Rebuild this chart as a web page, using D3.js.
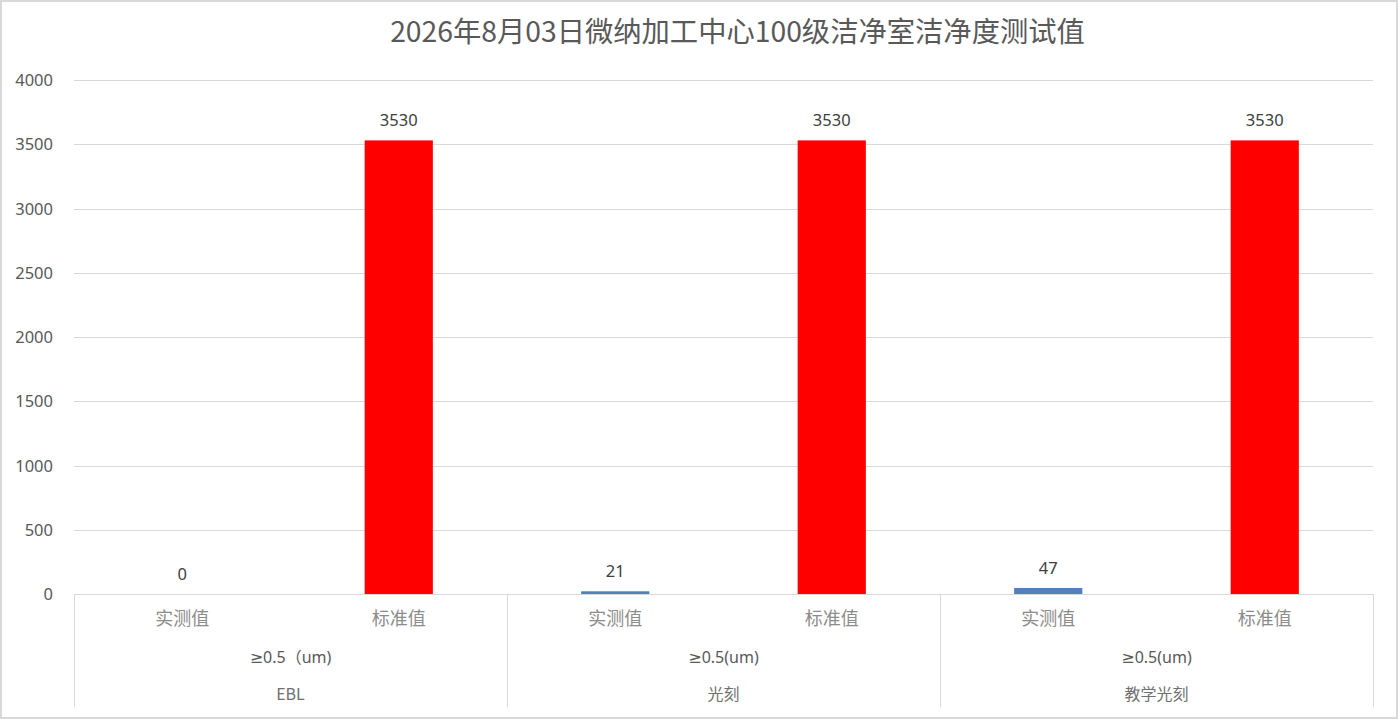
<!DOCTYPE html>
<html>
<head>
<meta charset="utf-8">
<script src="https://cdn.jsdelivr.net/npm/d3@7"></script>
<style>
  body { margin: 0; background: #fff; }
  svg { display: block; font-family: "Noto Sans CJK SC", "Noto Sans", sans-serif; }
  .latin { font-family: "Noto Sans", "DejaVu Sans", "Noto Sans CJK SC", sans-serif; }
</style>
</head>
<body>
<div id="chart"></div>
<script>
// chart data
var title = "2026年8月03日微纳加工中心100级洁净室洁净度测试值";
var groups = ["EBL", "光刻", "教学光刻"];
var sizeLabels = ["≥0.5（um)", "≥0.5(um)", "≥0.5(um)"];
var kinds = ["实测值", "标准值"];
var measured = [0, 21, 47];
var standard = [3530, 3530, 3530];
var yTicks = [0, 500, 1000, 1500, 2000, 2500, 3000, 3500, 4000];

var width = 1398, height = 719;
var plotLeft = 74, plotRight = 1373, plotTop = 80, base = 594;

var svg = d3.select("#chart").append("svg")
  .attr("width", width)
  .attr("height", height);

// outer frame
svg.append("rect")
  .attr("x", 1).attr("y", 1)
  .attr("width", width - 2).attr("height", height - 2)
  .attr("fill", "#fff")
  .attr("stroke", "#d9d9d9")
  .attr("stroke-width", 2);

svg.append("text")
  .attr("x", (plotLeft + plotRight) / 2 + 14)
  .attr("y", 42)
  .attr("text-anchor", "middle")
  .attr("font-size", 28.3)
  .attr("fill", "#595959")
  .text(title);

var y = d3.scaleLinear().domain([0, 4000]).range([base, plotTop]);

var x0 = d3.scaleBand().domain(groups).range([plotLeft, plotRight]);
var x1 = d3.scaleBand().domain(kinds).range([0, x0.bandwidth()]).paddingInner(0.685).paddingOuter(0.3425);

// grid lines
svg.append("g").selectAll("line")
  .data(yTicks)
  .join("line")
  .attr("x1", plotLeft).attr("x2", plotRight)
  .attr("y1", d => Math.round(y(d)) + 0.5)
  .attr("y2", d => Math.round(y(d)) + 0.5)
  .attr("stroke", "#d9d9d9")
  .attr("stroke-width", 1);

// y tick labels
svg.append("g").selectAll("text")
  .data(yTicks)
  .join("text")
  .attr("class", "latin")
  .attr("x", 53)
  .attr("y", d => y(d) + 6)
  .attr("text-anchor", "end")
  .attr("font-size", 16.5)
  .attr("fill", "#595959")
  .text(d => d);

// rows: one per group
var rows = groups.map(function(g, i) {
  return { group: g, values: [measured[i], standard[i]] };
});

var colors = d3.scaleOrdinal().domain(kinds).range(["#4f81bd", "#ff0000"]);

var gG = svg.append("g").selectAll("g")
  .data(rows)
  .join("g")
  .attr("transform", d => "translate(" + x0(d.group) + ",0)");

gG.selectAll("rect")
  .data(d => d.values.map((v, i) => ({ kind: kinds[i], value: v })))
  .join("rect")
  .attr("x", d => x1(d.kind))
  .attr("width", x1.bandwidth())
  .attr("y", d => y(d.value))
  .attr("height", d => base - y(d.value))
  .attr("fill", d => colors(d.kind));

gG.selectAll("text.val")
  .data(d => d.values.map((v, i) => ({ kind: kinds[i], value: v })))
  .join("text")
  .attr("class", "val latin")
  .attr("x", d => x1(d.kind) + x1.bandwidth() / 2)
  .attr("y", d => y(d.value) - 14)
  .attr("text-anchor", "middle")
  .attr("font-size", 16.5)
  .attr("fill", "#404040")
  .text(d => d.value);

// category axis: sub labels
gG.selectAll("text.kind")
  .data(kinds)
  .join("text")
  .attr("class", "kind")
  .attr("x", d => x1(d) + x1.bandwidth() / 2)
  .attr("y", 625)
  .attr("text-anchor", "middle")
  .attr("font-size", 18)
  .attr("fill", "#8c8c8c")
  .text(d => d);

gG.append("text")
  .attr("class", "latin")
  .attr("x", x0.bandwidth() / 2)
  .attr("y", 663)
  .attr("text-anchor", "middle")
  .attr("font-size", 16)
  .attr("fill", "#595959")
  .text((d, i) => sizeLabels[i]);

gG.append("text")
  .attr("x", x0.bandwidth() / 2)
  .attr("y", 700)
  .attr("text-anchor", "middle")
  .attr("font-size", 16)
  .attr("fill", "#707070")
  .text(d => d.group);

// divider lines in the category axis
var edges = groups.map(g => x0(g)).concat([plotRight]);
svg.append("g").selectAll("line")
  .data(edges)
  .join("line")
  .attr("x1", d => Math.round(d) + 0.5).attr("x2", d => Math.round(d) + 0.5)
  .attr("y1", base).attr("y2", 707)
  .attr("stroke", "#d9d9d9");
</script>
</body>
</html>
